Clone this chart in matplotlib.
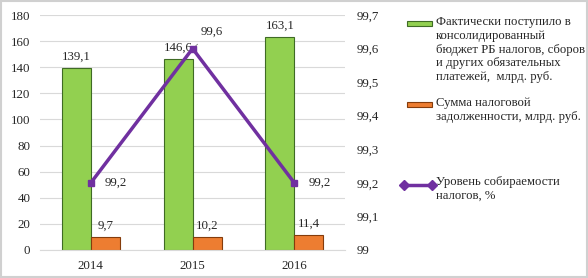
import matplotlib
matplotlib.use("Agg")
import matplotlib.pyplot as plt
import numpy as np
from matplotlib.patches import Rectangle
from matplotlib.lines import Line2D

plt.rcParams['font.family'] = ['Liberation Serif', 'DejaVu Serif']

years = ['2014', '2015', '2016']
received = [139.1, 146.6, 163.1]
debt = [9.7, 10.2, 11.4]
collect = [99.2, 99.6, 99.2]

received_lbl = ['139,1', '146,6', '163,1']
debt_lbl = ['9,7', '10,2', '11,4']
collect_lbl = ['99,2', '99,6', '99,2']

green = '#92d050'
green_edge = '#3f6b25'
orange = '#ed7d31'
orange_edge = '#843c0c'
purple = '#7030a0'
txt = '#262626'

fig = plt.figure(figsize=(5.88, 2.78), dpi=100)
ax = fig.add_axes([0.068, 0.101, 0.519, 0.845])
ax2 = ax.twinx()

x = np.arange(len(years))
w = 0.285
ax.bar(x - w / 2, received, w, color=green, edgecolor=green_edge, linewidth=0.8, zorder=2)
ax.bar(x + w / 2, debt, w, color=orange, edgecolor=orange_edge, linewidth=0.8, zorder=2)

for i in x:
    ax.text(i - w / 2, received[i] + 4, received_lbl[i], ha='center', va='bottom', fontsize=9.3, color=txt)
    ax.text(i + w / 2, debt[i] + 4, debt_lbl[i], ha='center', va='bottom', fontsize=9.3, color=txt)

ax.set_xlim(-0.5, 2.5)
ax.set_ylim(0, 180)
ax.set_yticks(np.arange(0, 181, 20))
ax.set_xticks(x)
ax.set_xticklabels(years)
ax.yaxis.grid(True, color='#d9d9d9', linewidth=0.8, zorder=0)
ax.set_axisbelow(True)
for s in ['top', 'right', 'left']:
    ax.spines[s].set_visible(False)
ax.spines['bottom'].set_color('#d9d9d9')
ax.tick_params(length=0, labelsize=9.3, colors=txt, pad=7)

ax2.plot(x, collect, color=purple, linewidth=2.5, marker='s', markersize=5, zorder=3)
ax2.set_ylim(99, 99.7)
ax2.set_yticks(np.arange(99, 99.71, 0.1))
ax2.set_yticklabels(['99', '99,1', '99,2', '99,3', '99,4', '99,5', '99,6', '99,7'])
for s in ['top', 'right', 'left', 'bottom']:
    ax2.spines[s].set_visible(False)
ax2.tick_params(length=0, labelsize=9.3, colors=txt, pad=8)

ax2.text(0 + 0.14, collect[0], collect_lbl[0], ha='left', va='center', fontsize=9.3, color=txt)
ax2.text(2 + 0.14, collect[2], collect_lbl[2], ha='left', va='center', fontsize=9.3, color=txt)
ax2.annotate(collect_lbl[1], xy=(1, collect[1]), xytext=(1.19, 99.65),
             ha='center', va='center', fontsize=9.3, color=txt,
             arrowprops=dict(arrowstyle='-', color='#7f7f7f', linewidth=0.6,
                             shrinkA=4, shrinkB=3))

# legend drawn by hand
fs = 9.2
fig.patches.append(Rectangle((407 / 588, 1 - 26 / 278), 25 / 588, 5 / 278,
                             transform=fig.transFigure, facecolor=green, edgecolor=green_edge, linewidth=0.8))
fig.text(436 / 588, 1 - 16 / 278,
         'Фактически поступило в\nконсолидированный\nбюджет РБ налогов, сборов\nи других обязательных\nплатежей,  млрд. руб.',
         ha='left', va='top', fontsize=fs, color=txt, linespacing=1.2)
fig.patches.append(Rectangle((407 / 588, 1 - 107 / 278), 25 / 588, 5 / 278,
                             transform=fig.transFigure, facecolor=orange, edgecolor=orange_edge, linewidth=0.8))
fig.text(436 / 588, 1 - 97 / 278,
         'Сумма налоговой\nзадолженности, млрд. руб.',
         ha='left', va='top', fontsize=fs, color=txt, linespacing=1.2)
fig.lines.append(Line2D([404 / 588, 432 / 588], [1 - 185 / 278, 1 - 185 / 278],
                        transform=fig.transFigure, color=purple, linewidth=2.5,
                        marker='D', markersize=5, markevery=[0, 1]))
fig.text(436 / 588, 1 - 176 / 278,
         'Уровень собираемости\nналогов, %',
         ha='left', va='top', fontsize=fs, color=txt, linespacing=1.2)

fig.patches.append(Rectangle((0.002, 0.004), 0.996, 0.992, transform=fig.transFigure,
                             fill=False, edgecolor='#d0d0d0', linewidth=1.5))

fig.savefig('out.png', dpi=100)
